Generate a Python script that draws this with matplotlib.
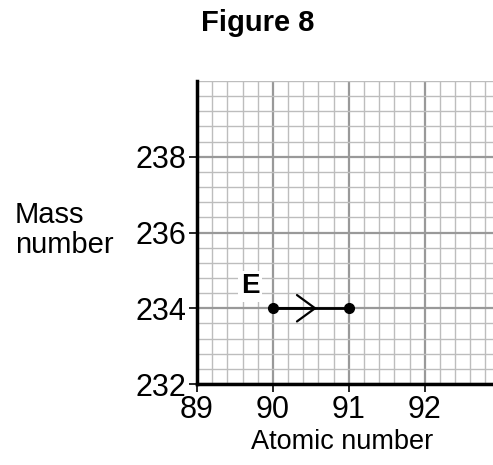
import numpy as np
import matplotlib
matplotlib.use("Agg")
import matplotlib.pyplot as plt
from matplotlib.ticker import MultipleLocator

plt.rcParams["font.family"] = ["Liberation Sans", "DejaVu Sans"]

# decay step E: (atomic number, mass number)
atomic = [90, 91]
mass = [234, 234]
arrow_frac = 0.58  # where the arrow head sits along the step
label = "E"

x_ticks = [89, 90, 91, 92]
y_ticks = [232, 234, 236, 238]

fig = plt.figure(figsize=(4.93, 4.65), dpi=100)
ax = fig.add_axes([197 / 493, 1 - 384 / 465, 296 / 493, 303 / 465])

ax.set_xlim(89, 92.9)
ax.set_ylim(232, 240)
ax.set_xticks(x_ticks)
ax.set_yticks(y_ticks)
ax.xaxis.set_minor_locator(MultipleLocator(0.2))
ax.yaxis.set_minor_locator(MultipleLocator(0.4))

ax.grid(which="major", color="#999999", lw=1.6)
ax.grid(which="minor", color="#bdbdbd", lw=1.0)
ax.set_axisbelow(True)

for s in ["top", "right"]:
    ax.spines[s].set_visible(False)
for s in ["left", "bottom"]:
    ax.spines[s].set_linewidth(2.5)
    ax.spines[s].set_zorder(5)

ax.tick_params(which="major", length=6, width=1.2, labelsize=22, pad=2)
ax.tick_params(which="minor", length=0)

# step line and endpoints
ax.plot(atomic, mass, color="black", lw=2, zorder=6)
ax.plot(atomic, mass, "o", color="black", ms=7, zorder=7)
tip = atomic[0] + arrow_frac * (atomic[1] - atomic[0])
ax.annotate("", xy=(tip, mass[0]), xytext=(atomic[0], mass[0]),
            arrowprops=dict(arrowstyle="->,head_length=1.3,head_width=0.95",
                            color="black", lw=1.6, shrinkA=0, shrinkB=0),
            zorder=7)
ax.text(atomic[0] - 0.3, mass[0] + 0.58, label, fontsize=20, fontweight="bold",
        ha="center", va="center", zorder=8,
        bbox=dict(boxstyle="square,pad=0.1", fc="white", ec="none"))

fig.text(258 / 493, 1 - 23 / 465, "Figure 8", fontsize=21, fontweight="bold",
         ha="center", va="center")
fig.text(15 / 493, 1 - 230 / 465, "Mass\nnumber", fontsize=21,
         ha="left", va="center", linespacing=1.1)
fig.text(342 / 493, 1 - 442 / 465, "Atomic number", fontsize=19.5,
         ha="center", va="center")

plt.savefig("out.png")
